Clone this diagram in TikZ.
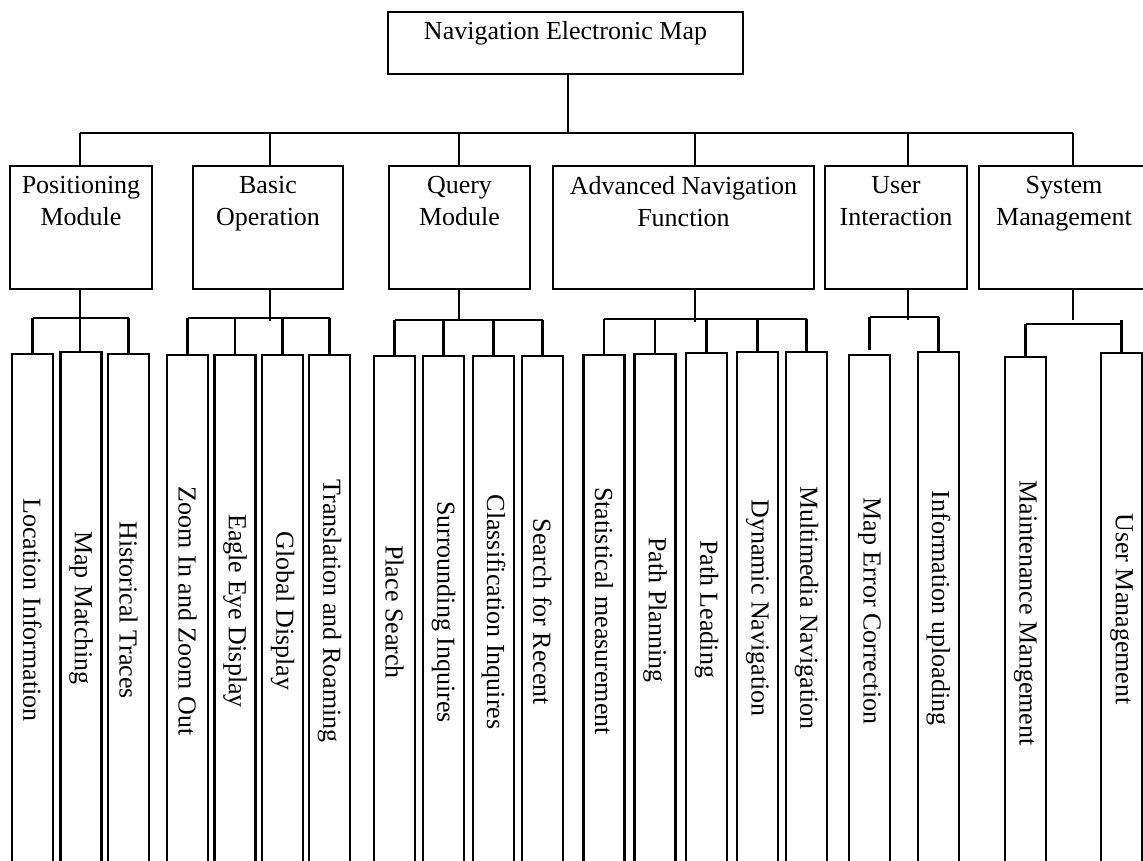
\documentclass[tikz,border=0pt]{standalone}
\usepackage{fontspec}
\setmainfont{Liberation Serif}
\begin{document}
\begin{tikzpicture}[x=1pt,y=-1pt,
  line/.style={line width=2.1pt},
  box/.style={draw, line width=2.1pt, rectangle, inner sep=0pt, minimum height=123pt},
  leaf/.style={draw, line width=2.1pt, rectangle, inner sep=0pt, anchor=north,
    minimum width=41pt, minimum height=512pt, font=\fontsize{26}{32}\selectfont},
  title/.style={anchor=north, inner sep=0pt, align=center,
    font=\fontsize{26}{32}\selectfont, yshift=-11pt},
]
\useasboundingbox (0,0) rectangle (1143,861);
\clip (0,0) rectangle (1143,861);

% root
\node[draw, line width=2.1pt, inner sep=0pt, minimum width=355pt, minimum height=62pt,
  label={[title, yshift=1pt]north:Navigation Electronic Map}] (root) at (565.5,43) {};

% modules
\node[box, minimum width=142pt, label={[title]north:{Positioning\\Module}}] (P) at (81,227.5) {};
\node[box, minimum width=150pt, label={[title]north:{Basic\\Operation}}] (B) at (268,227.5) {};
\node[box, minimum width=141pt, label={[title]north:{Query\\Module}}] (Q) at (459.5,227.5) {};
\node[box, minimum width=261pt, label={[title]north:{Advanced Navigation\\Function}}] (A) at (683.5,227.5) {};
\node[box, minimum width=142pt, label={[title]north:{User\\Interaction}}] (U) at (896,227.5) {};
\node[box, minimum width=170pt, label={[title]north:{System\\Management}}] (S) at (1064,227.5) {};

% functions
\node[leaf] (p1) at (32.5,353) {\rotatebox{-90}{Location Information}};
\node[leaf] (p2) at (81,351) {\rotatebox{-90}{Map Matching}};
\node[leaf] (p3) at (128.5,353) {\rotatebox{-90}{Historical Traces}};

\node[leaf] (b1) at (187.5,354) {\rotatebox{-90}{Zoom In and Zoom Out}};
\node[leaf] (b2) at (235,354) {\rotatebox{-90}{Eagle Eye Display}};
\node[leaf] (b3) at (282.5,354) {\rotatebox{-90}{Global Display}};
\node[leaf] (b4) at (329.5,354) {\rotatebox{-90}{Translation and Roaming}};

\node[leaf] (q1) at (394.5,355) {\rotatebox{-90}{Place Search}};
\node[leaf] (q2) at (443.5,355) {\rotatebox{-90}{Surrounding Inquires}};
\node[leaf] (q3) at (493.5,355) {\rotatebox{-90}{Classification Inquires}};
\node[leaf] (q4) at (542.5,355) {\rotatebox{-90}{Search for Recent}};

\node[leaf] (a1) at (604,354) {\rotatebox{-90}{Statistical measurement}};
\node[leaf] (a2) at (655,353) {\rotatebox{-90}{Path Planning}};
\node[leaf] (a3) at (706.5,352) {\rotatebox{-90}{Path Leading}};
\node[leaf] (a4) at (757.5,351) {\rotatebox{-90}{Dynamic Navigation}};
\node[leaf] (a5) at (806.5,351) {\rotatebox{-90}{Multimedia Navigation}};

\node[leaf] (u1) at (869.5,354) {\rotatebox{-90}{Map Error Correction}};
\node[leaf] (u2) at (938.5,351) {\rotatebox{-90}{Information uploading}};

\node[leaf] (s1) at (1025.5,356) {\rotatebox{-90}{Maintenance Mangement}};
\node[leaf] (s2) at (1121.5,352) {\rotatebox{-90}{User Management}};

% top level connectors
\coordinate (jR) at (568,133);
\coordinate (jP) at (80,133);
\coordinate (jB) at (270,133);
\coordinate (jQ) at (459,133);
\coordinate (jA) at (695,133);
\coordinate (jU) at (908,133);
\coordinate (jS) at (1073,133);
\draw[line] (root.south -| jR) -- (jR);
\draw[line] (jP) -- (jS);
\foreach \j/\m in {jP/P, jB/B, jQ/Q, jA/A, jU/U, jS/S}
  \draw[line] (\j) -- (\j |- \m.north);

% second level connectors
\coordinate (kP) at (80,318);
\coordinate (kB) at (270,318);
\coordinate (kQ) at (459,320);
\coordinate (kA) at (695,319);
\coordinate (kU) at (908,317);
\coordinate (kS) at (1073,324);

% positioning
\draw[line] (P.south -| kP) -- (kP |- p2.north);
\draw[line] (p1.north |- kP) -- (p3.north |- kP);
\draw[line] (p1.north |- kP) -- (p1.north);
\draw[line] (p3.north |- kP) -- (p3.north);

% basic operation
\draw[line] (B.south -| kB) -- ([yshift=-3pt]kB);
\draw[line] (b1.north |- kB) -- (b4.north |- kB);
\foreach \c in {b1,b2,b3,b4}
  \draw[line] (\c.north |- kB) -- (\c.north);

% query
\draw[line] (Q.south -| kQ) -- (kQ);
\draw[line] (q1.north |- kQ) -- (q4.north |- kQ);
\foreach \c in {q1,q2,q3,q4}
  \draw[line] (\c.north |- kQ) -- (\c.north);

% advanced navigation
\draw[line] (A.south -| kA) -- ([yshift=-3pt]kA);
\draw[line] (a1.north |- kA) -- (a5.north |- kA);
\foreach \c in {a1,a2,a3,a4,a5}
  \draw[line] (\c.north |- kA) -- (\c.north);

% user interaction
\draw[line] (U.south -| kU) -- ([yshift=-3pt]kU);
\draw[line] (u1.north |- kU) -- (u2.north |- kU);
\draw[line] (u1.north |- kU) -- ([yshift=4pt]u1.north);
\draw[line] (u2.north |- kU) -- (u2.north);

% system management
\draw[line] (S.south -| kS) -- ([yshift=4pt]kS);
\draw[line] (s1.north |- kS) -- (s2.north |- kS);
\draw[line] (s1.north |- kS) -- (s1.north);
\draw[line] ([yshift=4pt]s2.north |- kS) -- (s2.north);
\end{tikzpicture}
\end{document}
